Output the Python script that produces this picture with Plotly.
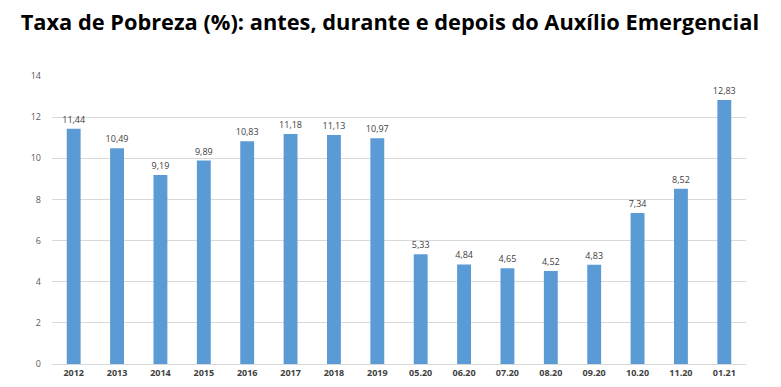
import plotly.graph_objects as go

categories = ["2012", "2013", "2014", "2015", "2016", "2017", "2018", "2019",
              "05.20", "06.20", "07.20", "08.20", "09.20", "10.20", "11.20", "01.21"]
values = [11.44, 10.49, 9.19, 9.89, 10.83, 11.18, 11.13, 10.97,
          5.33, 4.84, 4.65, 4.52, 4.83, 7.34, 8.52, 12.83]
labels = [f"{v:.2f}".replace(".", ",") for v in values]
y_ticks = [0, 2, 4, 6, 8, 10, 12, 14]

fig = go.Figure(go.Bar(
    x=categories, y=values, text=labels, textposition="outside",
    constraintext="none",
    textfont=dict(size=9, color="#404040", family="Open Sans"),
    marker=dict(color="#5B9BD5", line=dict(width=0)),
    width=0.32, cliponaxis=False,
))

fig.update_layout(
    width=773, height=379,
    margin=dict(l=44, r=35, t=68, b=23),
    paper_bgcolor="white", plot_bgcolor="white",
    title=dict(text="<b>Taxa de Pobreza (%): antes, durante e depois do Auxílio Emergencial</b>",
               x=0.494, xanchor="center", xref="container", y=0.963, yanchor="middle",
               font=dict(size=21.8, color="black", family="Open Sans")),
    showlegend=False,
    xaxis=dict(type="category", showgrid=False, showline=True, linecolor="#D9D9D9",
               linewidth=1, ticks="", automargin=False,
               tickfont=dict(size=9, color="#404040", family="Open Sans", weight="bold")),
    yaxis=dict(range=[0, 14], tickvals=y_ticks, showgrid=True, gridcolor="#D9D9D9",
               gridwidth=1, zeroline=False, ticks="", ticklabelstandoff=10, automargin=False,
               tickfont=dict(size=9, color="#595959", family="Open Sans")),
)

fig.write_html("out.html")
